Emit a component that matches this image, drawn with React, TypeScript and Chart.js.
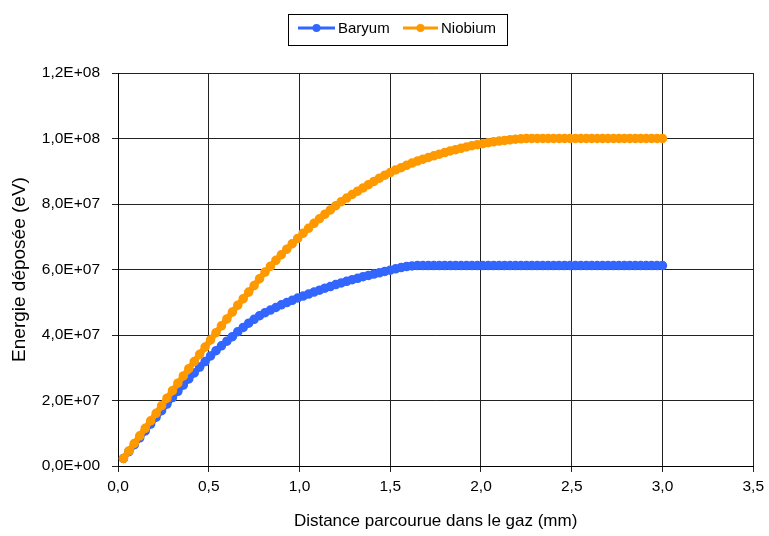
import React, { useEffect, useRef } from "react";
import { Chart, registerables } from "chart.js";

Chart.register(...registerables);

// Distance parcourue dans le gaz (mm)
const distances = [
  0.03, 0.06, 0.09, 0.12, 0.15, 0.18, 0.21, 0.24, 0.27, 0.3,
  0.33, 0.36, 0.39, 0.42, 0.45, 0.48, 0.51, 0.54, 0.57, 0.6,
  0.63, 0.66, 0.69, 0.72, 0.75, 0.78, 0.81, 0.84, 0.87, 0.9,
  0.93, 0.96, 0.99, 1.02, 1.05, 1.08, 1.11, 1.14, 1.17, 1.2,
  1.23, 1.26, 1.29, 1.32, 1.35, 1.38, 1.41, 1.44, 1.47, 1.5,
  1.53, 1.56, 1.59, 1.62, 1.65, 1.68, 1.71, 1.74, 1.77, 1.8,
  1.83, 1.86, 1.89, 1.92, 1.95, 1.98, 2.01, 2.04, 2.07, 2.1,
  2.13, 2.16, 2.19, 2.22, 2.25, 2.28, 2.31, 2.34, 2.37, 2.4,
  2.43, 2.46, 2.49, 2.52, 2.55, 2.58, 2.61, 2.64, 2.67, 2.7,
  2.73, 2.76, 2.79, 2.82, 2.85, 2.88, 2.91, 2.94, 2.97, 3.0,
];

// Energie déposée, in MeV (axis shows eV)
const baryumMeV = [
  2.3, 4.4, 6.5, 8.6, 10.7, 12.8, 14.9, 16.9, 18.9, 20.9,
  22.8, 24.7, 26.6, 28.4, 30.2, 31.9, 33.6, 35.2, 36.7, 38.1,
  39.5, 41.0, 42.3, 43.6, 44.8, 45.9, 46.8, 47.6, 48.4, 49.2,
  49.9, 50.6, 51.3, 51.9, 52.5, 53.1, 53.7, 54.3, 54.8, 55.4,
  55.9, 56.4, 56.9, 57.3, 57.8, 58.2, 58.6, 59.0, 59.4, 59.8,
  60.2, 60.6, 60.9, 61.1, 61.2, 61.2, 61.2, 61.2, 61.2, 61.2,
  61.2, 61.2, 61.2, 61.2, 61.2, 61.2, 61.2, 61.2, 61.2, 61.2,
  61.2, 61.2, 61.2, 61.2, 61.2, 61.2, 61.2, 61.2, 61.2, 61.2,
  61.2, 61.2, 61.2, 61.2, 61.2, 61.2, 61.2, 61.2, 61.2, 61.2,
  61.2, 61.2, 61.2, 61.2, 61.2, 61.2, 61.2, 61.2, 61.2, 61.2,
];

const niobiumMeV = [
  2.3, 4.6, 6.9, 9.2, 11.5, 13.8, 16.1, 18.4, 20.7, 23.0,
  25.3, 27.5, 29.7, 31.9, 34.1, 36.3, 38.5, 40.7, 42.8, 44.9,
  47.0, 49.1, 51.1, 53.1, 55.1, 57.2, 59.2, 61.0, 62.8, 64.5,
  66.2, 67.9, 69.5, 71.1, 72.6, 74.1, 75.5, 76.9, 78.2, 79.5,
  80.7, 81.8, 82.9, 83.9, 84.9, 85.9, 86.9, 87.9, 88.8, 89.6,
  90.4, 91.1, 91.8, 92.5, 93.1, 93.7, 94.2, 94.7, 95.2, 95.7,
  96.2, 96.6, 97.0, 97.4, 97.8, 98.1, 98.4, 98.7, 99.0, 99.2,
  99.4, 99.6, 99.8, 99.9, 100, 100, 100, 100, 100, 100,
  100, 100, 100, 100, 100, 100, 100, 100, 100, 100,
  100, 100, 100, 100, 100, 100, 100, 100, 100, 100,
];

const seriesNames = ["Baryum", "Niobium"];
const seriesColors = ["#3366FF", "#FF9900"];

const FONT = "'Liberation Sans', Arial, sans-serif";

function fmtSci(v: number): string {
  const [m, e] = v.toExponential(1).split("e");
  const exp = parseInt(e, 10);
  const sign = exp < 0 ? "-" : "+";
  const digits = String(Math.abs(exp)).padStart(2, "0");
  return m.replace(".", ",") + "E" + sign + digits;
}

const legendPlugin = {
  id: "boxLegend",
  afterDraw(chart: any) {
    const ctx = chart.ctx;
    ctx.save();
    const bx = 288.5, by = 14.5, bw = 219, bh = 31;
    ctx.fillStyle = "#fff";
    ctx.fillRect(bx, by, bw, bh);
    ctx.strokeStyle = "#000";
    ctx.lineWidth = 1;
    ctx.strokeRect(bx, by, bw, bh);
    const cy = 28;
    const items = [
      { x0: 298, x1: 335, tx: 338 },
      { x0: 403, x1: 438, tx: 441 },
    ];
    ctx.font = "15px " + FONT;
    ctx.textBaseline = "middle";
    ctx.textAlign = "left";
    items.forEach((it, i) => {
      ctx.strokeStyle = seriesColors[i];
      ctx.lineWidth = 3;
      ctx.beginPath();
      ctx.moveTo(it.x0, cy);
      ctx.lineTo(it.x1, cy);
      ctx.stroke();
      ctx.fillStyle = seriesColors[i];
      ctx.beginPath();
      ctx.arc((it.x0 + it.x1) / 2, cy, 4, 0, Math.PI * 2);
      ctx.fill();
      ctx.fillStyle = "#000";
      ctx.fillText(seriesNames[i], it.tx, cy + 1);
    });
    ctx.restore();
  },
};

export default function App() {
  const ref = useRef<HTMLCanvasElement | null>(null);

  useEffect(() => {
    document.body.style.margin = "0";
    const canvas = ref.current;
    if (!canvas) return;
    const series = [baryumMeV, niobiumMeV];
    const chart = new Chart(canvas, {
      type: "line",
      data: {
        datasets: series.map((vals, i) => ({
          label: seriesNames[i],
          data: vals.map((v, j) => ({ x: distances[j], y: v * 1e6 })),
          borderColor: seriesColors[i],
          backgroundColor: seriesColors[i],
          pointBackgroundColor: seriesColors[i],
          pointBorderColor: seriesColors[i],
          pointRadius: 4,
          pointBorderWidth: 1.5,
          borderWidth: 6,
          showLine: true,
          fill: false,
          tension: 0,
          order: i === 0 ? 1 : 0,
        })),
      },
      options: {
        animation: false,
        responsive: false,
        devicePixelRatio: 1,
        layout: { padding: { left: 0, right: 13, top: 73, bottom: 0 } },
        plugins: {
          legend: { display: false },
          tooltip: { enabled: false },
        },
        scales: {
          x: {
            type: "linear",
            min: 0,
            max: 3.5,
            afterFit: (s: any) => {
              s.height = 70;
            },
            ticks: {
              stepSize: 0.5,
              color: "#000",
              padding: 5,
              font: { family: FONT, size: 15.5 },
              callback: (v: any) => Number(v).toFixed(1).replace(".", ","),
            },
            grid: { color: "#222", lineWidth: 1, tickLength: 6, drawTicks: true },
            border: { color: "#000", width: 1 },
            title: {
              display: true,
              text: "Distance parcourue dans le gaz (mm)",
              color: "#000",
              font: { family: FONT, size: 17 },
              padding: { top: 0, bottom: 4 },
            },
          },
          y: {
            type: "linear",
            min: 0,
            max: 1.2e8,
            afterFit: (s: any) => {
              s.width = 118;
            },
            ticks: {
              stepSize: 2e7,
              color: "#000",
              padding: 12,
              font: { family: FONT, size: 15.5 },
              callback: (v: any) => fmtSci(Number(v)),
            },
            grid: { color: "#222", lineWidth: 1, tickLength: 6, drawTicks: true },
            border: { color: "#000", width: 1 },
            title: {
              display: true,
              text: "Energie déposée (eV)",
              color: "#000",
              font: { family: FONT, size: 19 },
              padding: { top: 8, bottom: 0 },
            },
          },
        },
      },
      plugins: [legendPlugin],
    });
    return () => chart.destroy();
  }, []);

  return (
    <div style={{ width: 769, height: 536, background: "#fff" }}>
      <canvas ref={ref} width={769} height={536} style={{ display: "block" }} />
    </div>
  );
}
